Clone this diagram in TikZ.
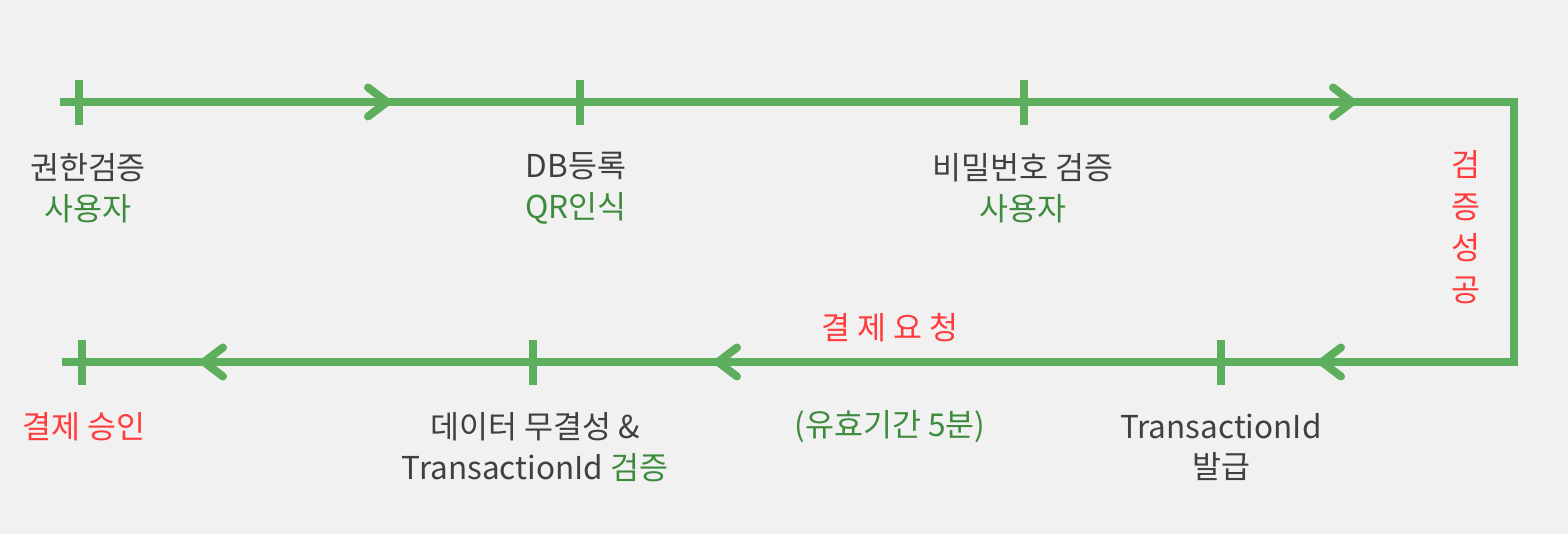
\documentclass[tikz,border=0pt]{standalone}
\usepackage{fontspec}
\setmainfont{Noto Sans CJK KR}
\usetikzlibrary{calc}
\definecolor{bgc}{HTML}{F1F1F1}
\definecolor{lineg}{HTML}{5DAF5D}
\definecolor{textg}{HTML}{3D8B3D}
\definecolor{textr}{HTML}{FF3B3B}
\definecolor{textd}{HTML}{404040}
\begin{document}
\begin{tikzpicture}[x=1pt,y=-1pt,
  flow/.style={draw=lineg,line width=8pt},
  chevron/.style={draw=lineg,line width=8pt,line cap=round,line join=miter},
  lbl/.style={inner sep=0pt,align=center,text=textd,font=\fontsize{31.5}{40.5}\selectfont},
  chevR/.pic={\draw[chevron] (-19,-14.5) -- (0,0) -- (-19,14.5);},
  chevL/.pic={\draw[chevron] (19,-14.5) -- (0,0) -- (19,14.5);}
]
\fill[bgc] (0,0) rectangle (1568,534);
\useasboundingbox (0,0) rectangle (1568,534);
% coordinates
\coordinate (s) at (60,102);
\coordinate (cTR) at (1514,102);
\coordinate (cBR) at (1514,362);
\coordinate (e) at (62,362);
\coordinate (tA) at (79,102);
\coordinate (tB) at (580,102);
\coordinate (tC) at (1024,102);
\coordinate (tD) at (1221,362);
\coordinate (tE) at (533,362);
\coordinate (tF) at (82,362);
% main line
\draw[flow,line join=miter] (s) -- (cTR) -- (cBR) -- (e);
% ticks
\foreach \t in {tA,tB,tC,tD,tE,tF}{
  \draw[flow] ($(\t)+(0,-22)$) -- ($(\t)+(0,23)$);
}
% arrowheads
\pic at (387,102) {chevR};
\pic at (1352,102) {chevR};
\pic at (1322,362) {chevL};
\pic at (718,362) {chevL};
\pic at (204,362) {chevL};
% labels
\node[lbl] (la) at (88,188) {권한검증\\\textcolor{textg}{사용자}};
\node[lbl] (lb) at (576,188) {DB등록\\\textcolor{textg}{QR인식}};
\node[lbl] (lc) at (1023,188) {비밀번호 검증\\\textcolor{textg}{사용자}};
\node[lbl,text=textr,font=\fontsize{31.5}{41.5}\selectfont] (ld) at (1466,227) {검\\증\\성\\공};
\node[lbl,text=textr] (le) at (890,328) {결 제 요 청};
\node[lbl,text=textg] (lf) at (890,427) {(유효기간 5분)};
\node[lbl] (lg) at (1221,447) {TransactionId\\발급};
\node[lbl] (lh) at (535,447) {데이터 무결성 \&\\TransactionId \textcolor{textg}{검증}};
\node[lbl,text=textr] (li) at (84,427) {결제 승인};
\end{tikzpicture}
\end{document}
